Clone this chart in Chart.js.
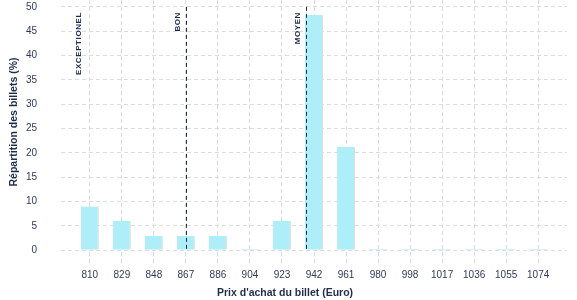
<!DOCTYPE html>
<html>
<head>
<meta charset="utf-8">
<script src="https://cdn.jsdelivr.net/npm/chart.js@4.4.1/dist/chart.umd.min.js"></script>
<style>
  html, body { margin: 0; padding: 0; background: #fff; }
  #wrap { width: 577px; height: 300px; position: relative; }
</style>
</head>
<body>
<div id="wrap"><canvas id="chart"></canvas></div>
<script>
// ticket price categories (Euro) and share of tickets (%)
const prices = ['810', '829', '848', '867', '886', '904', '923', '942', '961', '980', '998', '1017', '1036', '1055', '1074'];
const shares = [9, 6, 3, 3, 3, 0.3, 6, 48.3, 21.2, 0.3, 0.3, 0.3, 0.3, 0.3, 0.3];
const yTicks = [0, 5, 10, 15, 20, 25, 30, 35, 40, 45, 50];

// price thresholds, position in category index units
const zoneLabels = ['EXCEPTIONEL', 'BON', 'MOYEN'];
const zonePositions = [-0.08, 3, 6.75];
const zoneHasLine = [false, true, true];

const navy = '#1f2d4d';
const tickColor = '#2e3a59';
const gridColor = '#dcdcdc';

const zonePlugin = {
    id: 'zones',
    afterDatasetsDraw(chart) {
        const ctx = chart.ctx;
        const x = chart.scales.x;
        const y = chart.scales.y;
        ctx.save();
        zonePositions.forEach((pos, i) => {
            const px = x.getPixelForValue(pos);
            if (zoneHasLine[i]) {
                ctx.strokeStyle = navy;
                ctx.lineWidth = 1;
                ctx.setLineDash([4, 3]);
                ctx.beginPath();
                ctx.moveTo(Math.round(px) + 0.5, y.getPixelForValue(50));
                ctx.lineTo(Math.round(px) + 0.5, y.getPixelForValue(0));
                ctx.stroke();
            }
            ctx.save();
            ctx.translate(px - 4, 12);
            ctx.rotate(-Math.PI / 2);
            ctx.fillStyle = navy;
            ctx.font = 'bold 8px "Liberation Sans", Arial, sans-serif';
            ctx.letterSpacing = '0.6px';
            ctx.textAlign = 'right';
            ctx.textBaseline = 'bottom';
            ctx.fillText(zoneLabels[i], 0, 0);
            ctx.restore();
        });
        ctx.restore();
    },
    afterDraw(chart) {
        const ctx = chart.ctx;
        ctx.save();
        ctx.fillStyle = navy;
        ctx.font = 'bold 10.5px "Liberation Sans", Arial, sans-serif';
        ctx.textAlign = 'center';
        ctx.textBaseline = 'middle';
        ctx.fillText("Prix d'achat du billet (Euro)", 285, 293);
        ctx.translate(14, 122);
        ctx.rotate(-Math.PI / 2);
        ctx.fillText('Répartition des billets (%)', 0, 0);
        ctx.restore();
    }
};

const ctx = document.getElementById('chart').getContext('2d');
new Chart(ctx, {
    type: 'bar',
    data: {
        datasets: [{
            data: shares.map((v, i) => ({ x: i, y: v })),
            backgroundColor: '#aeeef8',
            borderColor: '#dcdcdc',
            borderWidth: { top: 0, right: 1, bottom: 0, left: 0 },
            borderSkipped: false,
            barPercentage: 0.56,
            categoryPercentage: 1
        }]
    },
    options: {
        responsive: true,
        maintainAspectRatio: false,
        animation: false,
        layout: { padding: { top: 0, right: 10, bottom: 0, left: 0 } },
        plugins: {
            legend: { display: false },
            tooltip: { enabled: false }
        },
        scales: {
            x: {
                type: 'linear',
                min: -0.9,
                max: 14.9,
                offset: false,
                afterBuildTicks: (scale) => {
                    scale.ticks = prices.map((p, i) => ({ value: i }));
                },
                afterFit: (scale) => {
                    scale.height = 37;
                    scale.paddingLeft = 0;
                    scale.paddingRight = 0;
                },
                border: { display: false, dash: [4, 3] },
                grid: {
                    color: gridColor,
                    offset: false,
                    drawTicks: false,
                    tickLength: 0
                },
                ticks: {
                    padding: 6,
                    color: tickColor,
                    font: { family: '"Liberation Sans", Arial, sans-serif', size: 10 },
                    maxRotation: 0,
                    autoSkip: false,
                    callback: (value) => prices[value]
                }
            },
            y: {
                min: -2.6,
                max: 51.4,
                afterBuildTicks: (scale) => {
                    scale.ticks = yTicks.map(v => ({ value: v }));
                },
                afterFit: (scale) => {
                    scale.width = 61;
                    scale.paddingTop = 0;
                    scale.paddingBottom = 0;
                },
                border: { display: false, dash: [4, 3] },
                grid: {
                    color: gridColor,
                    drawTicks: false,
                    tickLength: 0
                },
                ticks: {
                    padding: 24,
                    color: tickColor,
                    font: { family: '"Liberation Sans", Arial, sans-serif', size: 10 }
                }
            }
        }
    },
    plugins: [zonePlugin]
});
</script>
</body>
</html>
